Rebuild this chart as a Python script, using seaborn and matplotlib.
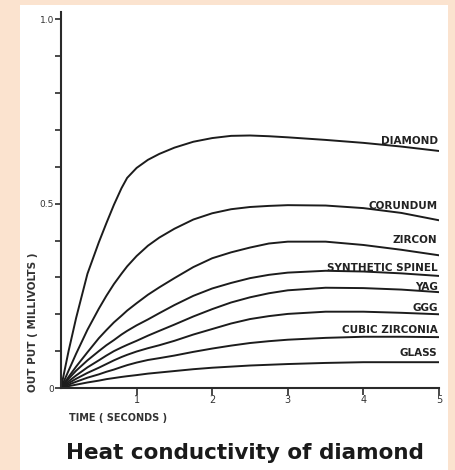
import numpy as np
import pandas as pd
import matplotlib
matplotlib.use("Agg")
import matplotlib.pyplot as plt
from matplotlib.patches import Rectangle
import seaborn as sns

sns.set_theme(style="white")
plt.rcParams["font.family"] = ["DejaVu Sans"]

# values (time in seconds, output in millivolts)
time = [0, 0.1, 0.2, 0.35, 0.5, 0.6, 0.7, 0.8, 0.875, 1.0, 1.15, 1.3, 1.5, 1.75,
        2.0, 2.25, 2.5, 2.75, 3.0, 3.5, 4.0, 4.5, 5.0]
diamond = [0, 0.10, 0.19, 0.31, 0.395, 0.447, 0.497, 0.542, 0.57, 0.597, 0.619, 0.635, 0.652, 0.668,
           0.678, 0.684, 0.685, 0.683, 0.68, 0.673, 0.665, 0.655, 0.643]
corundum = [0, 0.047, 0.093, 0.158, 0.215, 0.25, 0.282, 0.31, 0.33, 0.358, 0.386, 0.408, 0.432, 0.457,
            0.474, 0.485, 0.491, 0.494, 0.496, 0.495, 0.488, 0.475, 0.455]
zircon = [0, 0.03, 0.058, 0.097, 0.135, 0.157, 0.178, 0.196, 0.21, 0.23, 0.253, 0.273, 0.298, 0.328,
          0.352, 0.368, 0.381, 0.392, 0.397, 0.397, 0.388, 0.375, 0.36]
spinel = [0, 0.025, 0.047, 0.075, 0.10, 0.116, 0.13, 0.145, 0.155, 0.17, 0.186, 0.203, 0.225, 0.25,
          0.27, 0.285, 0.298, 0.307, 0.313, 0.318, 0.316, 0.311, 0.304]
yag = [0, 0.018, 0.034, 0.056, 0.075, 0.088, 0.10, 0.11, 0.117, 0.128, 0.142, 0.155, 0.172, 0.194,
       0.214, 0.232, 0.246, 0.257, 0.265, 0.272, 0.271, 0.267, 0.26]
ggg = [0, 0.013, 0.025, 0.041, 0.055, 0.065, 0.075, 0.084, 0.09, 0.099, 0.108, 0.116, 0.128, 0.145,
       0.16, 0.175, 0.187, 0.195, 0.201, 0.207, 0.207, 0.204, 0.20]
cubic_zirconia = [0, 0.009, 0.017, 0.028, 0.037, 0.044, 0.05, 0.057, 0.062, 0.069, 0.076, 0.081, 0.088,
                  0.098, 0.107, 0.115, 0.122, 0.127, 0.131, 0.136, 0.139, 0.139, 0.138]
glass = [0, 0.005, 0.009, 0.015, 0.02, 0.024, 0.027, 0.03, 0.032, 0.035, 0.039, 0.042, 0.046, 0.051,
         0.055, 0.058, 0.061, 0.063, 0.065, 0.068, 0.07, 0.07, 0.07]

stones = ["DIAMOND", "CORUNDUM", "ZIRCON", "SYNTHETIC SPINEL", "YAG", "GGG", "CUBIC ZIRCONIA", "GLASS"]
series = [diamond, corundum, zircon, spinel, yag, ggg, cubic_zirconia, glass]

df = pd.concat(
    [pd.DataFrame({"time": time, "output": vals, "stone": name}) for name, vals in zip(stones, series)],
    ignore_index=True,
)

fig = plt.figure(figsize=(4.55, 4.70), dpi=100, facecolor="#fbe3cf")
fig.patches.append(Rectangle((20 / 455, 0), 428 / 455, 465 / 470, transform=fig.transFigure,
                             facecolor="white", edgecolor="none", zorder=-10))

ax = fig.add_axes([61 / 455, 82 / 470, 378 / 455, 376 / 470])
ax.set_zorder(5)
ax.set_facecolor("none")

sns.lineplot(data=df, x="time", y="output", hue="stone", palette=["#1c1c1c"] * len(stones),
             legend=False, sort=False, estimator=None, linewidth=1.4, ax=ax)
for ln in ax.lines:
    ln.set_solid_joinstyle("round")

ax.set_xlim(0, 5.0)
ax.set_ylim(0, 1.02)

for s in ["top", "right"]:
    ax.spines[s].set_visible(False)
for s in ["left", "bottom"]:
    ax.spines[s].set_color("#2a2a2a")
    ax.spines[s].set_linewidth(1.5)

ax.set_yticks(np.arange(0, 1.01, 0.1))
ax.set_yticklabels(["0", "", "", "", "", "0.5", "", "", "", "", "1.0"])
ax.set_xticks([1, 2, 3, 4, 5])
ax.set_xticklabels(["1", "2", "3", "4", "5"])
ax.tick_params(axis="y", left=True, direction="out", length=4, width=1.2, color="#2a2a2a",
               labelsize=6.5, pad=1, labelcolor="#333333")
ax.tick_params(axis="x", bottom=True, direction="out", length=5, width=1.2, color="#2a2a2a",
               labelsize=7, pad=0, labelcolor="#333333")
ax.set_xlabel("")
ax.set_ylabel("")

# curve names sit just above each line's end
label_dy = [5, 8, 8.5, 3.5, 1.5, 2, 3, 4.5]
for name, vals, dy in zip(stones, series, label_dy):
    ax.annotate(name, xy=(time[-1], vals[-1]), xytext=(-1, dy), textcoords="offset points",
                ha="right", va="baseline", fontsize=7.5, fontweight="bold", color="#222222")

ax.text(0.02, -0.066, "TIME ( SECONDS )", transform=ax.transAxes, ha="left", va="top",
        fontsize=7, fontweight="bold", color="#333333")
ax.text(-0.074, 0.175, "OUT PUT ( MILLIVOLTS )", transform=ax.transAxes, ha="center", va="center",
        rotation=90, fontsize=7.5, fontweight="bold", color="#333333")

fig.text(245 / 455, 1 - 453 / 470, "Heat conductivity of diamond", ha="center", va="center",
         fontsize=15.5, fontweight="bold", color="#1a1a1a")

fig.savefig("out.png", dpi=100, facecolor=fig.get_facecolor())
